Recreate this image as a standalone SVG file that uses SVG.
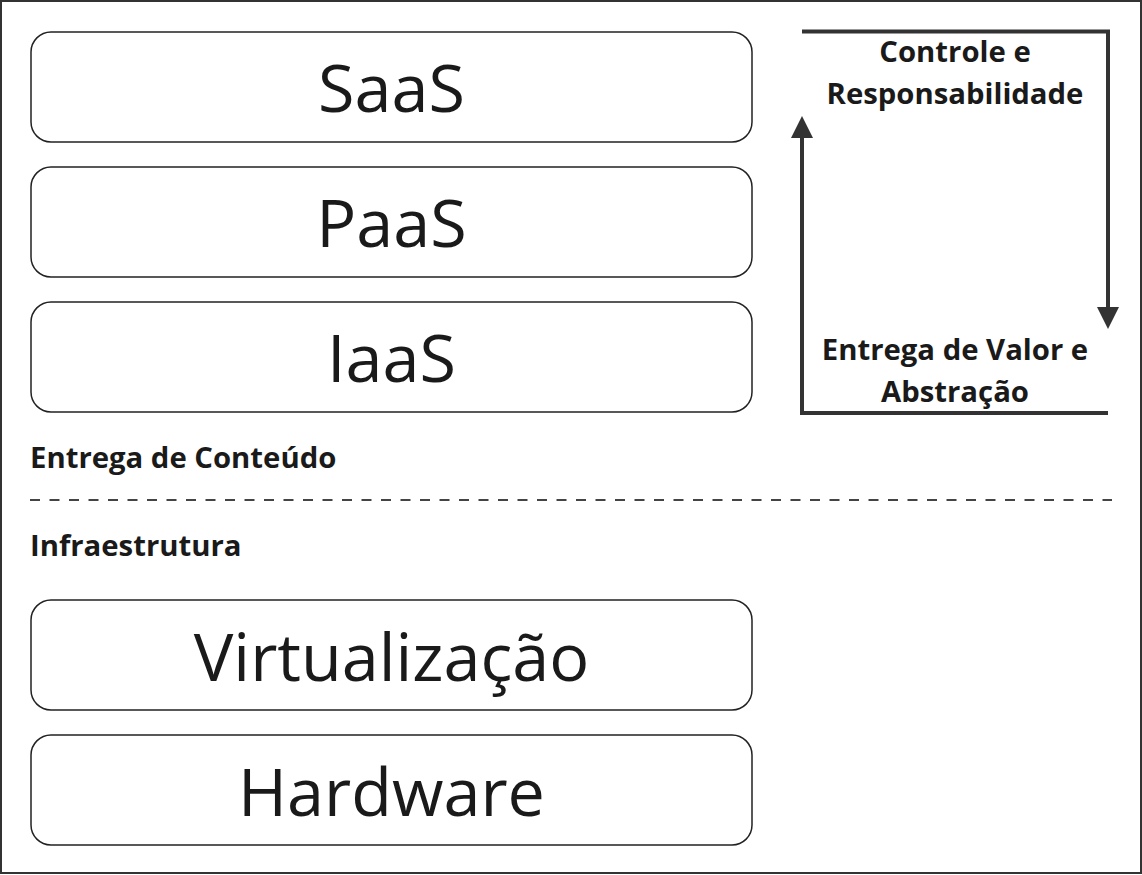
<svg xmlns="http://www.w3.org/2000/svg" width="1142" height="875" viewBox="0 0 1142 875">
<defs>
<style>
.box{fill:#fff;stroke:#222;stroke-width:1.5}
.big{font-family:"Open Sans","Noto Sans",sans-serif;font-size:66.5px;fill:#1a1a1a;text-anchor:middle}
.lbl{font-family:"Open Sans","Noto Sans",sans-serif;font-size:29.3px;font-weight:bold;fill:#1a1a1a}
.mid{text-anchor:middle}
.flow{fill:none;stroke:#333;stroke-width:4}
</style>
<marker id="ah" markerWidth="22" markerHeight="22" viewBox="0 0 22 22" refX="2" refY="11" orient="auto" markerUnits="userSpaceOnUse">
<path d="M0,0 L22,11 L0,22 Z" fill="#333"/>
</marker>
</defs>
<rect x="1" y="1" width="1140" height="872" fill="#fff" stroke="#333" stroke-width="2"/>
<g id="saas"><rect class="box" x="31" y="32" width="721" height="110" rx="20"/><text class="big" x="391.5" y="112">SaaS</text></g>
<g id="paas"><rect class="box" x="31" y="167" width="721" height="110" rx="20"/><text class="big" x="391.5" y="247">PaaS</text></g>
<g id="iaas"><rect class="box" x="31" y="302" width="721" height="110" rx="20"/><text class="big" x="391.5" y="382">IaaS</text></g>
<g id="virtualizacao"><rect class="box" x="31" y="600" width="721" height="110" rx="20"/><text class="big" x="391.5" y="681">Virtualização</text></g>
<g id="hardware"><rect class="box" x="31" y="735" width="721" height="110" rx="20"/><text class="big" x="391.5" y="816">Hardware</text></g>
<g id="entrega-conteudo"><text class="lbl" x="30" y="468">Entrega de Conteúdo</text></g>
<g id="infraestrutura"><text class="lbl" x="30" y="556">Infraestrutura</text></g>
<g id="controle"><text class="lbl mid" x="955" y="62">Controle e</text><text class="lbl mid" x="955" y="104">Responsabilidade</text></g>
<g id="entrega-valor"><text class="lbl mid" x="955" y="360">Entrega de Valor e</text><text class="lbl mid" x="955" y="402">Abstração</text></g>
<g id="connectors">
<line x1="30" y1="500" x2="1112" y2="500" stroke="#444" stroke-width="2" stroke-dasharray="10 9.5"/>
<path class="flow" d="M802,31.5 H1108 V309" marker-end="url(#ah)"/>
<path class="flow" d="M1108,413 H802 V136" marker-end="url(#ah)"/>
</g>
</svg>
